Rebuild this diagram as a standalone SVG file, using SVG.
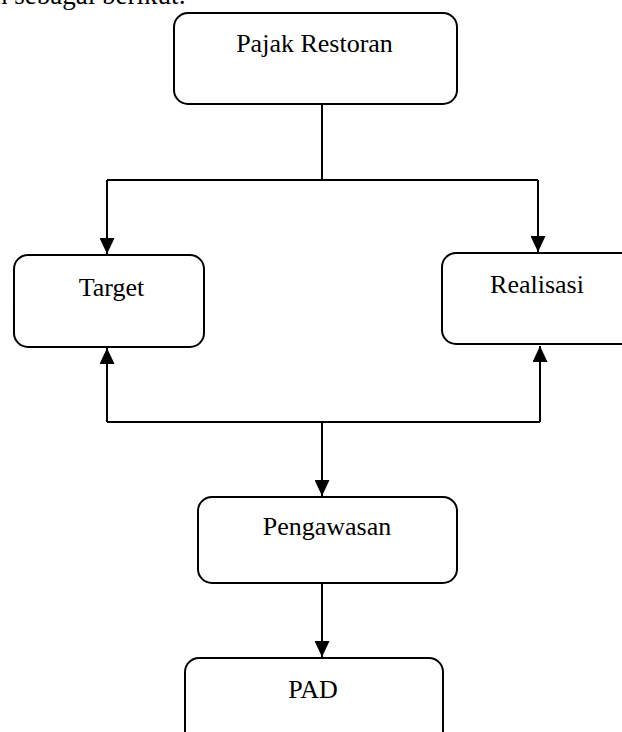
<svg xmlns="http://www.w3.org/2000/svg" width="622" height="732" viewBox="0 0 622 732">
<style>
.box{fill:#fff;stroke:#000;stroke-width:2}
.lbl{font-family:"Liberation Serif","Times New Roman",serif;font-size:26px;fill:#000;text-anchor:middle}
.ln{fill:none;stroke:#000;stroke-width:2}
</style>
<defs>
<marker id="ah" markerWidth="16" markerHeight="15" viewBox="0 0 16 15" refX="16" refY="7.5" orient="auto" markerUnits="userSpaceOnUse">
<path d="M0,0 L16,7.5 L0,15 Z" fill="#000"/>
</marker>
</defs>
<rect width="622" height="732" fill="#fff"/>
<text x="186" y="4" font-family="Liberation Serif, Times New Roman, serif" font-size="27" text-anchor="end" fill="#000">n sebagai berikut:</text>
<g id="connectors">
<path class="ln" d="M322,104 V180"/>
<path class="ln" d="M107,180 H538"/>
<path class="ln" d="M107,180 V254" marker-end="url(#ah)"/>
<path class="ln" d="M538,180 V252" marker-end="url(#ah)"/>
<path class="ln" d="M107,422 H540"/>
<path class="ln" d="M107,422 V348" marker-end="url(#ah)"/>
<path class="ln" d="M540,422 V346" marker-end="url(#ah)"/>
<path class="ln" d="M322,422 V496" marker-end="url(#ah)"/>
<path class="ln" d="M322,583 V657" marker-end="url(#ah)"/>
</g>
<g id="pajak">
<rect class="box" x="174" y="13" width="283" height="91" rx="14"/>
<text class="lbl" x="314.5" y="52">Pajak Restoran</text>
</g>
<g id="target">
<rect class="box" x="14" y="255" width="190" height="92" rx="14"/>
<text class="lbl" x="111.5" y="296">Target</text>
</g>
<g id="realisasi">
<rect class="box" x="442" y="253" width="200" height="91" rx="14"/>
<text class="lbl" x="537" y="293">Realisasi</text>
</g>
<g id="pengawasan">
<rect class="box" x="198" y="497" width="259" height="86" rx="14"/>
<text class="lbl" x="327" y="535">Pengawasan</text>
</g>
<g id="pad">
<rect class="box" x="185" y="658" width="258" height="100" rx="14"/>
<text class="lbl" x="313" y="698">PAD</text>
</g>
</svg>
